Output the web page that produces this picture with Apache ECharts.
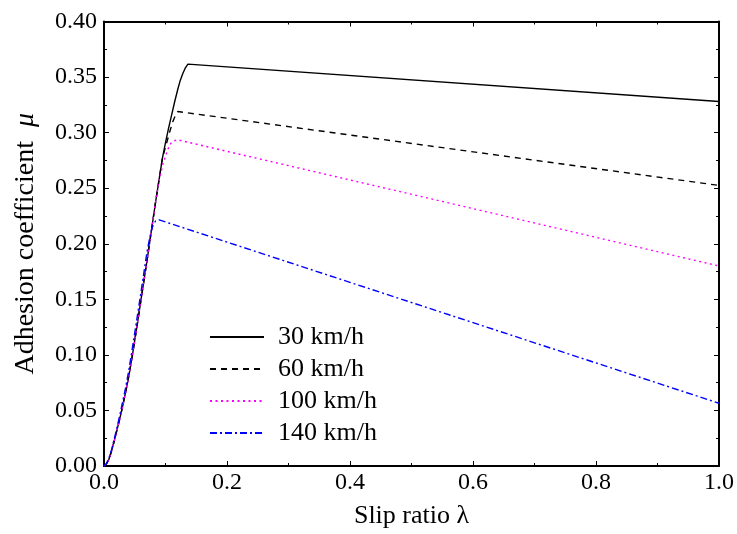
<!DOCTYPE html>
<html>
<head>
<meta charset="utf-8">
<script src="https://cdn.jsdelivr.net/npm/echarts@6/dist/echarts.min.js"></script>
<style>html,body{margin:0;padding:0;background:#fff;}#c{width:737px;height:534px;}</style>
</head>
<body>
<div id="c"></div>
<script>
var seriesNames = ['30 km/h', '60 km/h', '100 km/h', '140 km/h'];
var data30 = [[0,0],[0.004,0.002],[0.008,0.006],[0.012,0.013],[0.016,0.021],[0.02,0.03],[0.025,0.041],[0.03,0.053],[0.035,0.066],[0.04,0.08],[0.046,0.099],[0.052,0.12],[0.06,0.149],[0.07,0.185],[0.084,0.238],[0.095,0.277],[0.1,0.291],[0.105,0.304],[0.11,0.316],[0.115,0.328],[0.12,0.339],[0.124,0.347],[0.128,0.353],[0.132,0.358],[0.1365,0.3616],[1.0,0.328]];
var data60 = [[0,0],[0.004,0.002],[0.008,0.006],[0.012,0.013],[0.016,0.021],[0.02,0.03],[0.025,0.041],[0.03,0.053],[0.035,0.066],[0.04,0.08],[0.046,0.099],[0.052,0.12],[0.06,0.149],[0.07,0.185],[0.084,0.238],[0.095,0.277],[0.1015,0.29],[0.107,0.301],[0.112,0.31],[0.1166,0.316],[0.12,0.319],[0.122,0.3205],[1.0,0.2525]];
var data100 = [[0,0],[0.004,0.002],[0.008,0.006],[0.012,0.013],[0.016,0.021],[0.02,0.03],[0.025,0.041],[0.03,0.053],[0.035,0.066],[0.04,0.08],[0.046,0.099],[0.052,0.12],[0.06,0.149],[0.07,0.185],[0.084,0.238],[0.09,0.258],[0.096,0.272],[0.1025,0.283],[0.107,0.289],[0.111,0.292],[0.116,0.293],[0.12,0.2935],[1.0,0.18]];
var data140 = [[0,0],[0.004,0.002],[0.008,0.007],[0.012,0.014],[0.016,0.023],[0.02,0.032],[0.025,0.044],[0.03,0.057],[0.035,0.07],[0.04,0.085],[0.045,0.102],[0.052,0.127],[0.06,0.156],[0.07,0.193],[0.076,0.21],[0.08,0.217],[0.084,0.2205],[0.0896,0.2215],[1.0,0.0565]];
var xTicks = [0, 0.2, 0.4, 0.6, 0.8, 1.0];
var yTicks = [0, 0.05, 0.10, 0.15, 0.20, 0.25, 0.30, 0.35, 0.40];

var FONT = '"Liberation Serif", "Times New Roman", serif';
var chart = echarts.init(document.getElementById('c'), null, {renderer: 'canvas'});

function axisBase(extra) {
  var base = {
    axisLine: {show: true, onZero: false, lineStyle: {color: '#000', width: 2}},
    axisTick: {show: true, inside: true, length: 5, lineStyle: {color: '#000', width: 1}},
    minorTick: {show: true, splitNumber: 2, length: 3, lineStyle: {color: '#000', width: 1}},
    splitLine: {show: false},
    minorSplitLine: {show: false}
  };
  for (var k in extra) base[k] = extra[k];
  return base;
}

var option = {
  backgroundColor: '#fff',
  animation: false,
  grid: {left: 104, right: 15.5, top: 21.5, bottom: 63, containLabel: false},
  legend: {
    orient: 'vertical',
    left: 204,
    top: 319,
    itemWidth: 54,
    itemHeight: 14,
    itemGap: 6,
    data: seriesNames,
    itemStyle: {opacity: 0, color: 'rgba(0,0,0,0)', borderWidth: 0},
    textStyle: {fontFamily: FONT, fontSize: 26, lineHeight: 26, color: '#000', padding: [0, 0, 0, 9]}
  },
  xAxis: [
    axisBase({
      type: 'value', min: 0, max: 1, interval: 0.2, position: 'bottom',
      name: 'Slip ratio λ', nameLocation: 'middle', nameGap: 37,
      nameTextStyle: {fontFamily: FONT, fontSize: 26, color: '#000'},
      axisLabel: {margin: 5, fontFamily: FONT, fontSize: 24, color: '#000',
        formatter: function (v) { return v.toFixed(1); }}
    }),
    axisBase({
      type: 'value', min: 0, max: 1, interval: 0.2, position: 'top',
      axisLabel: {show: false}
    })
  ],
  yAxis: [
    axisBase({
      type: 'value', min: 0, max: 0.4, interval: 0.05, position: 'left',
      name: 'Adhesion coefficient  {i|μ}', nameLocation: 'middle', nameGap: 64, nameRotate: 90,
      nameTextStyle: {fontFamily: FONT, fontSize: 28, color: '#000',
        rich: {i: {fontFamily: FONT, fontSize: 28, fontStyle: 'italic', color: '#000'}}},
      axisLabel: {margin: 7, fontFamily: FONT, fontSize: 24, color: '#000',
        formatter: function (v) { return v.toFixed(2); }}
    }),
    axisBase({
      type: 'value', min: 0, max: 0.4, interval: 0.05, position: 'right',
      axisLabel: {show: false}
    })
  ],
  series: [
    {name: seriesNames[0], type: 'line', data: data30, symbol: 'none', showSymbol: false,
      lineStyle: {color: '#000', width: 1.4, type: 'solid'}, itemStyle: {color: '#000'}},
    {name: seriesNames[1], type: 'line', data: data60, symbol: 'none', showSymbol: false,
      lineStyle: {color: '#000', width: 1.4, type: [6, 5]}, itemStyle: {color: '#000'}},
    {name: seriesNames[2], type: 'line', data: data100, symbol: 'none', showSymbol: false,
      lineStyle: {color: '#ff00ff', width: 1.4, type: [2, 3.5]}, itemStyle: {color: '#ff00ff'}},
    {name: seriesNames[3], type: 'line', data: data140, symbol: 'none', showSymbol: false,
      lineStyle: {color: '#0000ff', width: 1.4, type: [7, 3, 2, 3]}, itemStyle: {color: '#0000ff'}}
  ]
};
chart.setOption(option);
</script>
</body>
</html>
